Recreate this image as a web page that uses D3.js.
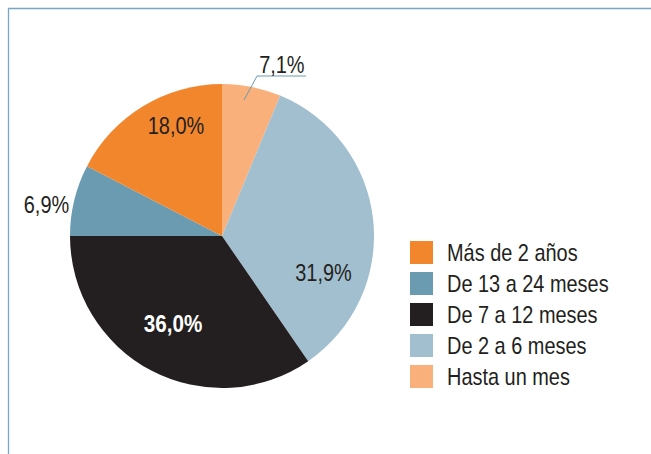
<!DOCTYPE html>
<html><head><meta charset="utf-8">
<script src="https://cdn.jsdelivr.net/npm/d3@7"></script>
<style>
html,body{margin:0;padding:0;background:#fff;}
svg{display:block;}
text{font-family:"Liberation Sans","Arial",sans-serif;}
</style></head>
<body>
<svg id="chart" width="651" height="454"></svg>
<script>
// Data (clockwise from 12 o'clock)
const categories = ["Hasta un mes", "De 2 a 6 meses", "De 7 a 12 meses", "De 13 a 24 meses", "Más de 2 años"];
// slice shares as drawn in the picture
const values = [6.25, 34.15, 34.6, 7.6, 17.4];
// printed labels
const labels = ["7,1%", "31,9%", "36,0%", "6,9%", "18,0%"];
const colors = ["#f9b07b", "#a2bfcf", "#231f20", "#6a9bb0", "#f2862d"];
const legendOrder = ["Más de 2 años", "De 13 a 24 meses", "De 7 a 12 meses", "De 2 a 6 meses", "Hasta un mes"];

// Label placement (angle in degrees clockwise from top, radius in px)
const labelAngle = [19.2, 109.5, 209.4, 280.3, 337.5];
const labelRadius = [182, 107.7, 99.8, 178.4, 120.2];
const labelColor = ["#231f20", "#231f20", "#ffffff", "#231f20", "#231f20"];
const labelWeight = ["normal", "normal", "bold", "normal", "normal"];

const W = 651, H = 454;
const SX = 0.83; // horizontal condensing to emulate a narrow typeface
const svg = d3.select("#chart");
const cx = 222, cy = 236, R = 152;

// frame
svg.append("path").attr("d", `M8.5,${H} L8.5,8.5 L${W},8.5`)
  .attr("fill", "none").attr("stroke", "#7aa6c6").attr("stroke-width", 1.3);

const color = d3.scaleOrdinal().domain(categories).range(colors);
const pie = d3.pie().sort(null).value(d => d.v);
const data = categories.map((c, i) => ({c, v: values[i], i}));
const arcs = pie(data);
const arc = d3.arc().innerRadius(0).outerRadius(R);

const g = svg.append("g").attr("transform", `translate(${cx},${cy})`);
g.selectAll("path.slice").data(arcs).join("path")
  .attr("class", "slice")
  .attr("d", arc)
  .attr("fill", d => color(d.data.c));

function polar(angDeg, r) {
  const a = angDeg * Math.PI / 180;
  return [r * Math.sin(a), -r * Math.cos(a)];
}

// leader line for first slice
const p0 = polar(9.2, 137.8);
const p1 = [p0[0] + 13, -160];
const p2 = [p1[0] + 49, -160];
g.append("polyline")
  .attr("points", [p0, p1, p2].map(p => p.join(",")).join(" "))
  .attr("fill", "none").attr("stroke", "#6a9bb0").attr("stroke-width", 1);

g.selectAll("text.lbl").data(arcs).join("text")
  .attr("class", "lbl")
  .attr("transform", d => {
    const p = polar(labelAngle[d.data.i], labelRadius[d.data.i]);
    return `translate(${p[0]},${p[1]}) scale(${d.data.i === 2 ? 0.86 : SX},1)`;
  })
  .attr("dy", "0.36em")
  .attr("text-anchor", "middle")
  .attr("font-size", 24)
  .attr("font-weight", d => labelWeight[d.data.i])
  .attr("fill", d => labelColor[d.data.i])
  .text(d => labels[d.data.i]);

// legend
const leg = svg.append("g").attr("transform", "translate(410,241)");
const ly = d3.scaleBand().domain(legendOrder).range([0, 155]).paddingInner(0);
const rows = leg.selectAll("g").data(legendOrder).join("g")
  .attr("transform", d => `translate(0,${ly(d)})`);
rows.append("rect").attr("width", 23).attr("height", 23).attr("fill", d => color(d));
rows.append("text")
  .attr("transform", `translate(37,11.5) scale(${SX},1)`)
  .attr("dy", "0.36em")
  .attr("font-size", 24).attr("fill", "#231f20").text(d => d);
</script>
</body></html>
